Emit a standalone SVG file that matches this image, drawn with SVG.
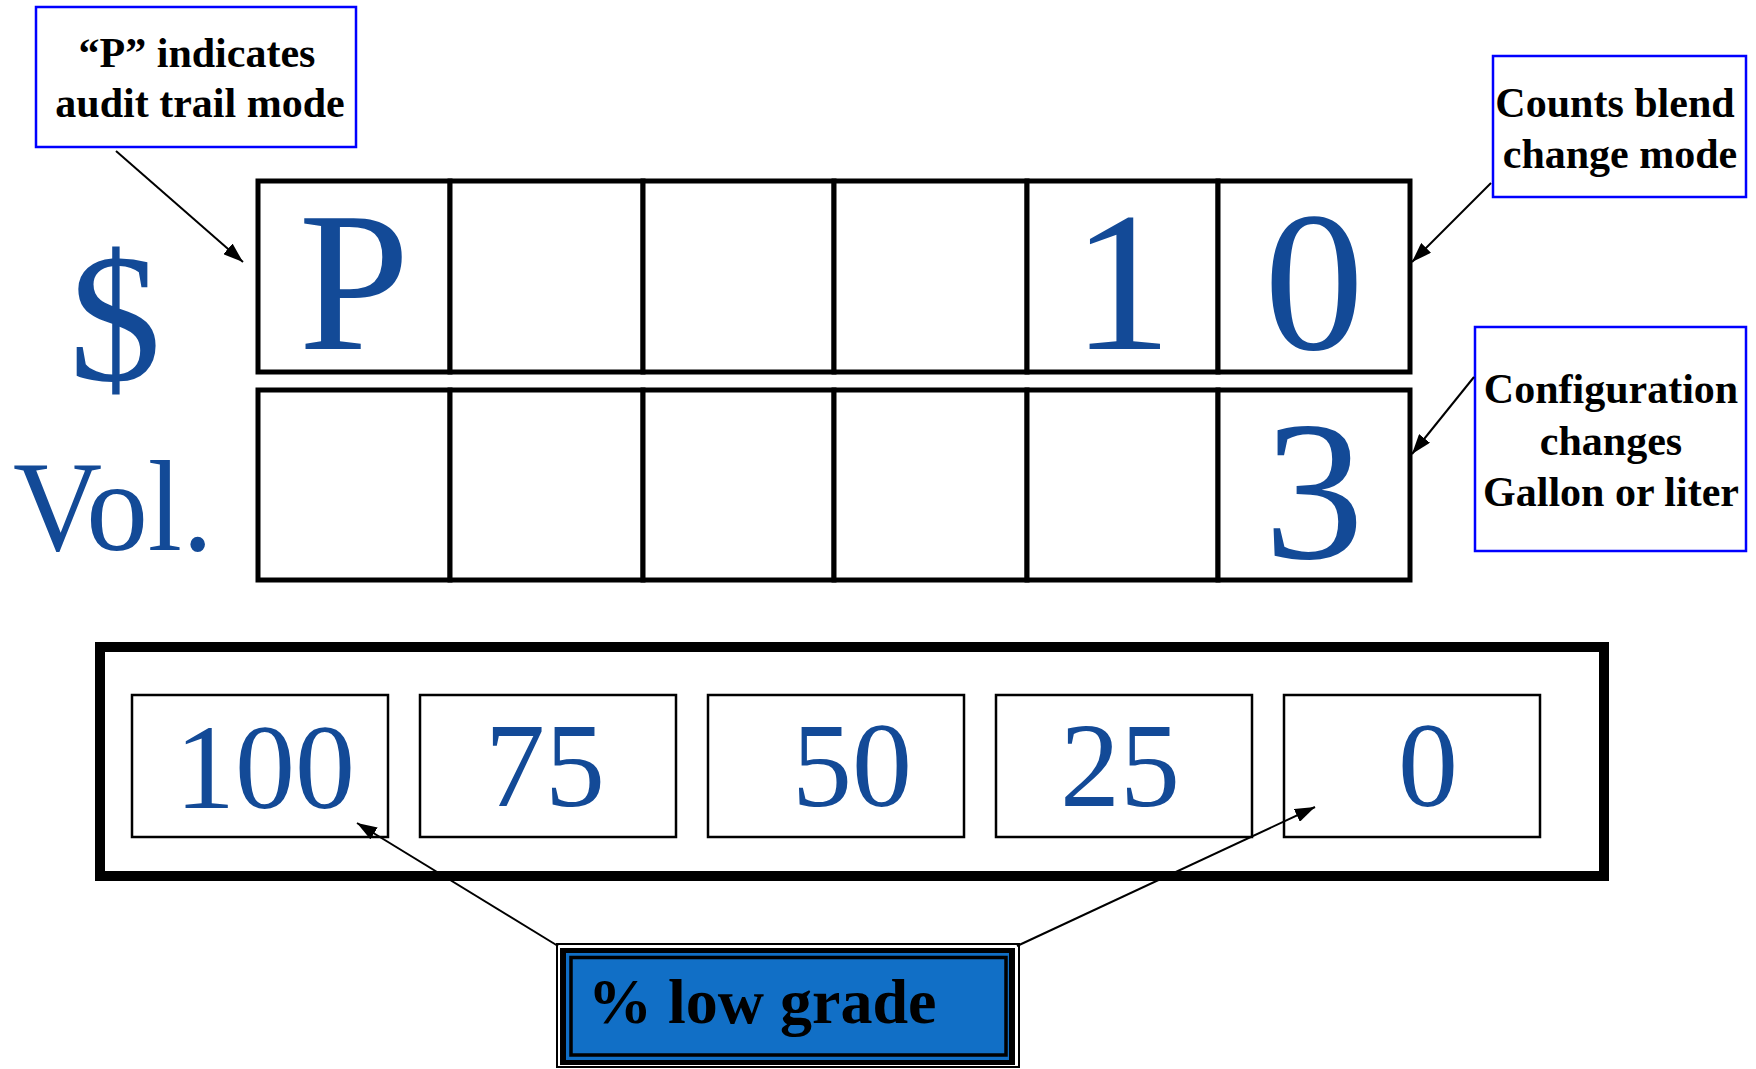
<svg xmlns="http://www.w3.org/2000/svg" width="1756" height="1069" viewBox="0 0 1756 1069">
<style>
.note{fill:#fff;stroke:#0000ff;stroke-width:2.5}
.nt{font-family:"Liberation Serif","Times New Roman",serif;font-weight:bold;font-size:42px;fill:#000;text-anchor:middle}
.cell{fill:#fff;stroke:#000;stroke-width:5}
.big{font-family:"Liberation Serif","Times New Roman",serif;font-size:200px;fill:#134A97;text-anchor:middle}
.lbl{font-family:"Liberation Serif","Times New Roman",serif;fill:#134A97}
.sel{fill:#fff;stroke:#000;stroke-width:2.5}
.num{font-family:"Liberation Serif","Times New Roman",serif;font-size:120px;fill:#134A97;text-anchor:middle}
.conn{stroke:#000;stroke-width:2;fill:none}
</style>
<defs>
<marker id="ah" markerUnits="userSpaceOnUse" markerWidth="22" markerHeight="14" refX="20" refY="7" orient="auto">
<path d="M0,0 L20,7 L0,14 z" fill="#000"/>
</marker>
</defs>
<rect width="1756" height="1069" fill="#fff"/>

<g id="label-dollar"><text class="lbl" x="115" y="380" font-size="185" text-anchor="middle">$</text></g>
<g id="label-vol"><text class="lbl" x="13" y="550" font-size="130" textLength="200" lengthAdjust="spacingAndGlyphs">Vol.</text></g>

<g id="note-audit">
<rect class="note" x="36" y="7" width="320" height="140"/>
<text class="nt" x="197" y="67">“P” indicates</text>
<text class="nt" x="200" y="117">audit trail mode</text>
</g>
<g id="note-blend">
<rect class="note" x="1493" y="56" width="253" height="141"/>
<text class="nt" x="1615" y="117">Counts blend</text>
<text class="nt" x="1620" y="168">change mode</text>
</g>
<g id="note-config">
<rect class="note" x="1475" y="327" width="271" height="224"/>
<text class="nt" x="1611" y="403">Configuration</text>
<text class="nt" x="1611" y="455">changes</text>
<text class="nt" x="1611" y="506">Gallon or liter</text>
</g>

<g id="row-dollar">
<rect class="cell" x="258" y="181" width="192" height="191"/>
<rect class="cell" x="450" y="181" width="193" height="191"/>
<rect class="cell" x="643" y="181" width="191" height="191"/>
<rect class="cell" x="834" y="181" width="193" height="191"/>
<rect class="cell" x="1027" y="181" width="191" height="191"/>
<rect class="cell" x="1218" y="181" width="192" height="191"/>
<text class="big" x="354" y="349">P</text>
<text class="big" x="1122" y="349">1</text>
<text class="big" x="1314" y="349">0</text>
</g>
<g id="row-volume">
<rect class="cell" x="258" y="390" width="192" height="190"/>
<rect class="cell" x="450" y="390" width="193" height="190"/>
<rect class="cell" x="643" y="390" width="191" height="190"/>
<rect class="cell" x="834" y="390" width="193" height="190"/>
<rect class="cell" x="1027" y="390" width="191" height="190"/>
<rect class="cell" x="1218" y="390" width="192" height="190"/>
<text class="big" x="1314" y="558">3</text>
</g>

<g id="grade-panel">
<rect x="100" y="647" width="1504" height="229" fill="#fff" stroke="#000" stroke-width="10"/>
<rect class="sel" x="132" y="695" width="256" height="142"/>
<rect class="sel" x="420" y="695" width="256" height="142"/>
<rect class="sel" x="708" y="695" width="256" height="142"/>
<rect class="sel" x="996" y="695" width="256" height="142"/>
<rect class="sel" x="1284" y="695" width="256" height="142"/>
<text class="num" x="265" y="808">100</text>
<text class="num" x="545" y="806">75</text>
<text class="num" x="852" y="806">50</text>
<text class="num" x="1120" y="806">25</text>
<text class="num" x="1428" y="806">0</text>
</g>

<g id="low-grade">
<rect x="557" y="944" width="462" height="123" fill="#fff" stroke="#000" stroke-width="2"/>
<rect x="560" y="948" width="455" height="117" fill="#000"/>
<rect x="566" y="953" width="443" height="107" fill="#116FC6"/>
<rect x="571" y="957.5" width="435" height="97.5" fill="#116FC6" stroke="#000" stroke-width="3.5"/>
<text x="588" y="1023" font-family="'Liberation Serif','Times New Roman',serif" font-weight="bold" font-size="64" fill="#000">% low grade</text>
</g>

<g id="connectors">
<line class="conn" x1="116" y1="151" x2="243" y2="262" marker-end="url(#ah)"/>
<line class="conn" x1="1491" y1="183" x2="1412" y2="262" marker-end="url(#ah)"/>
<line class="conn" x1="1474" y1="377" x2="1412" y2="454" marker-end="url(#ah)"/>
<line class="conn" x1="558" y1="946" x2="357" y2="823" marker-end="url(#ah)"/>
<line class="conn" x1="1017" y1="946" x2="1315" y2="807" marker-end="url(#ah)"/>
</g>
</svg>
